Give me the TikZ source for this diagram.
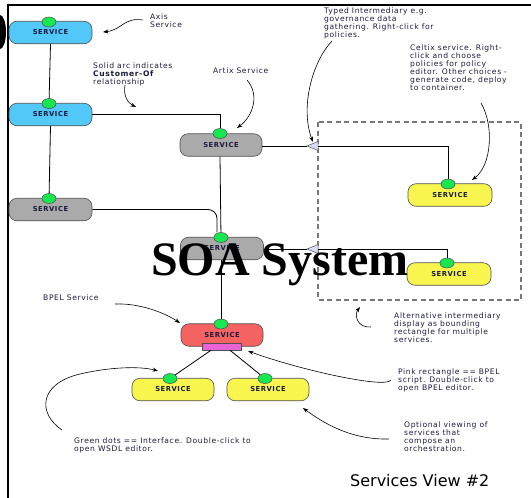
\documentclass[tikz,border=0pt]{standalone}
\usepackage{fontspec}
\setmainfont{DejaVu Sans}
\newfontfamily\annfont[LetterSpace=8]{DejaVu Sans}
\newfontfamily\svcfont[LetterSpace=8]{DejaVu Sans}
\newfontfamily\bigserif{Liberation Serif}
\usetikzlibrary{shapes.geometric,arrows.meta}
\definecolor{svcblue}{RGB}{82,200,248}
\definecolor{svcgray}{RGB}{170,170,170}
\definecolor{svcyellow}{RGB}{248,246,78}
\definecolor{svcred}{RGB}{244,98,98}
\definecolor{svcpink}{RGB}{232,100,214}
\definecolor{dotgreen}{RGB}{24,232,80}
\definecolor{trifill}{RGB}{216,220,244}
\definecolor{anntext}{RGB}{26,26,60}
\definecolor{boxedge}{RGB}{80,80,80}
\definecolor{dashgray}{RGB}{120,120,120}
\begin{document}
\begin{tikzpicture}[x=1pt,y=-1pt,
  svc/.style={draw=boxedge, line width=0.6pt, rounded corners=8pt, minimum width=83pt, minimum height=22.5pt, inner sep=0pt, font=\svcfont\bfseries\fontsize{6.8}{7}\selectfont, text=anntext},
  ifdot/.style={ellipse, draw=boxedge, line width=0.5pt, fill=dotgreen, minimum width=14pt, minimum height=10pt, inner sep=0pt},
  ann/.style={anchor=north west, inner sep=0pt, align=left, text=anntext, font=\annfont\fontsize{7.6}{8}\selectfont},
  annarrow/.style={draw=black, line width=0.6pt, -{Stealth[length=5.5pt,width=4pt]}},
  link/.style={draw=black, line width=0.8pt},
  tri/.style={draw=boxedge, line width=0.5pt, fill=trifill}
]
\useasboundingbox (0,0) rectangle (531,498);
\clip (0,0) rectangle (531,498);
% corner blob and frame
\fill[black] (0,32) ellipse (6 and 17);
\draw[line width=2pt] (8,498) -- (8,5) -- (531,5);

% dashed bounding rectangle
\draw[dashgray, line width=1.1pt, dash pattern=on 5pt off 3.5pt] (318,122) rectangle (521,300);

% service boxes
\node[svc, fill=svcblue] (s1) at (50.5,32.5) {SERVICE};
\node[svc, fill=svcblue] (s2) at (50.5,114.5) {SERVICE};
\node[svc, fill=svcgray] (gl) at (50.5,209.5) {SERVICE};
\node[svc, fill=svcgray, minimum width=82pt] (art) at (221,145) {SERVICE};
\node[svc, fill=svcgray] (g2) at (222,248.5) {SERVICE};
\node[svc, fill=svcyellow, minimum width=84pt] (c1) at (450,195) {SERVICE};
\node[svc, fill=svcyellow, minimum width=84pt] (c2) at (449,274) {SERVICE};
\node[svc, fill=svcred, minimum width=82pt] (red) at (222,335) {SERVICE};
\node[svc, fill=svcyellow, minimum width=82pt] (b1) at (173,389.5) {SERVICE};
\node[svc, fill=svcyellow, minimum width=82pt] (b2) at (268,389.5) {SERVICE};
\node[draw=boxedge, line width=0.5pt, fill=svcpink, minimum width=39pt, minimum height=7pt, inner sep=0pt] (pk) at (222,346.5) {};

% interface dots
\node[ifdot] (d1) at (49,22) {};
\node[ifdot] (d2) at (49,103.5) {};
\node[ifdot] (dl) at (49,198.5) {};
\node[ifdot] (da) at (220,133.5) {};
\node[ifdot] (dg) at (221,237.5) {};
\node[ifdot] (dc1) at (448,184) {};
\node[ifdot] (dc2) at (447,263) {};
\node[ifdot] (dr) at (221,324) {};
\node[ifdot] (db1) at (170,378.5) {};
\node[ifdot] (db2) at (265,378.5) {};

% typed intermediary triangles
\coordinate (t1tip) at (307,146);
\coordinate (t1base) at (318,146);
\coordinate (t2tip) at (307,249);
\coordinate (t2base) at (318,249);
\draw[tri] (t1tip) -- ++(11,-4.5) -- ++(0,9) -- cycle;
\draw[tri] (t2tip) -- ++(11,-4.5) -- ++(0,9) -- cycle;

% connectors
\draw[link] (s1.south) -- (d2);
\draw[link] (s2.south) -- (dl);
\draw[link] (s2.east) -| (da);
\draw[link] (art.east |- t1tip) -- (t1tip);
\draw[link] (t1base) -| (dc1);
\draw[link] (art.south -| da) -- (dg);
\draw[link, rounded corners=9pt] (gl.east) -| ([xshift=-4pt]dg.north);
\draw[link] (g2.east |- t2tip) -- (t2tip);
\draw[link] (t2base) -| (dc2);
\draw[link] (g2.south -| dg) -- (dr);
\draw[link] ([xshift=-11pt]pk.south) -- (db1);
\draw[link] ([xshift=8pt]pk.south) -- (db2);

% annotations
\node[ann] (nAxis) at (150,13.5) {Axis\\Service};
\node[ann] (nSolid) at (93,62.5) {Solid arc indicates\\\textbf{Customer-Of}\\relationship};
\node[ann] (nArtix) at (213,68) {Artix Service};
\node[ann] (nTyped) at (324,7.5) {Typed Intermediary e.g.\\governance data\\gathering. Right-click for\\policies.};
\node[ann] (nCeltix) at (410,44.5) {Celtix service. Right-\\click and choose\\policies for policy\\editor. Other choices -\\generate code, deploy\\to container.};
\node[ann] (nAlt) at (394,313) {Alternative intermediary\\display as bounding\\rectangle for multiple\\services.};
\node[ann] (nBpel) at (43,295) {BPEL Service};
\node[ann] (nPink) at (398,369) {Pink rectangle == BPEL\\script. Double-click to\\open BPEL editor.};
\node[ann] (nOpt) at (404,422) {Optional viewing of\\services that\\compose an\\orchestration.};
\node[ann] (nGreen) at (74,438) {Green dots == Interface. Double-click to\\open WSDL editor.};
\node[anchor=west, inner sep=0pt, text=black, font=\fontsize{16}{19}\selectfont] (title) at (350,481) {Services View \#2};

% annotation arrows
\coordinate (aAxis) at (143,20);
\coordinate (aSolid) at (125,85);
\coordinate (aArtix) at (247,80);
\coordinate (aTyped) at (332,41);
\coordinate (aCeltix) at (481,103);
\coordinate (aAlt) at (371,327);
\coordinate (aBpel) at (115,304);
\coordinate (aPink) at (391,380);
\coordinate (aOpt) at (389,439);
\coordinate (aGreen) at (62,430);
\draw[annarrow] (aAxis) .. controls (124,17) and (122,30) .. (103,32);
\draw[annarrow] (aSolid) .. controls (123,96) and (128,103) .. (136,107);
\draw[annarrow] (aArtix) .. controls (260,95) and (253,116) .. (237,128);
\draw[annarrow] (aTyped) .. controls (312,62) and (300,108) .. (313,142);
\draw[annarrow] (aCeltix) .. controls (494,125) and (492,165) .. (472,180);
\draw[annarrow] (aAlt) .. controls (357,328) and (354,315) .. (360,307);
\draw[annarrow] (aBpel) .. controls (140,303) and (165,313) .. (180,323);
\draw[annarrow] (aPink) .. controls (386,389) and (300,370) .. (248,351);
\draw[annarrow] (aOpt) .. controls (350,440) and (322,422) .. (303,408);
\draw[annarrow] (aGreen) .. controls (38,414) and (38,384) .. (80,374) .. controls (110,367) and (140,366) .. (158,371);

% overlay title
\node[anchor=base west, inner sep=0pt, text=black, font=\bigserif\bfseries\fontsize{48}{50}\selectfont] (soa) at (151,275) {SOA System};
\end{tikzpicture}
\end{document}
